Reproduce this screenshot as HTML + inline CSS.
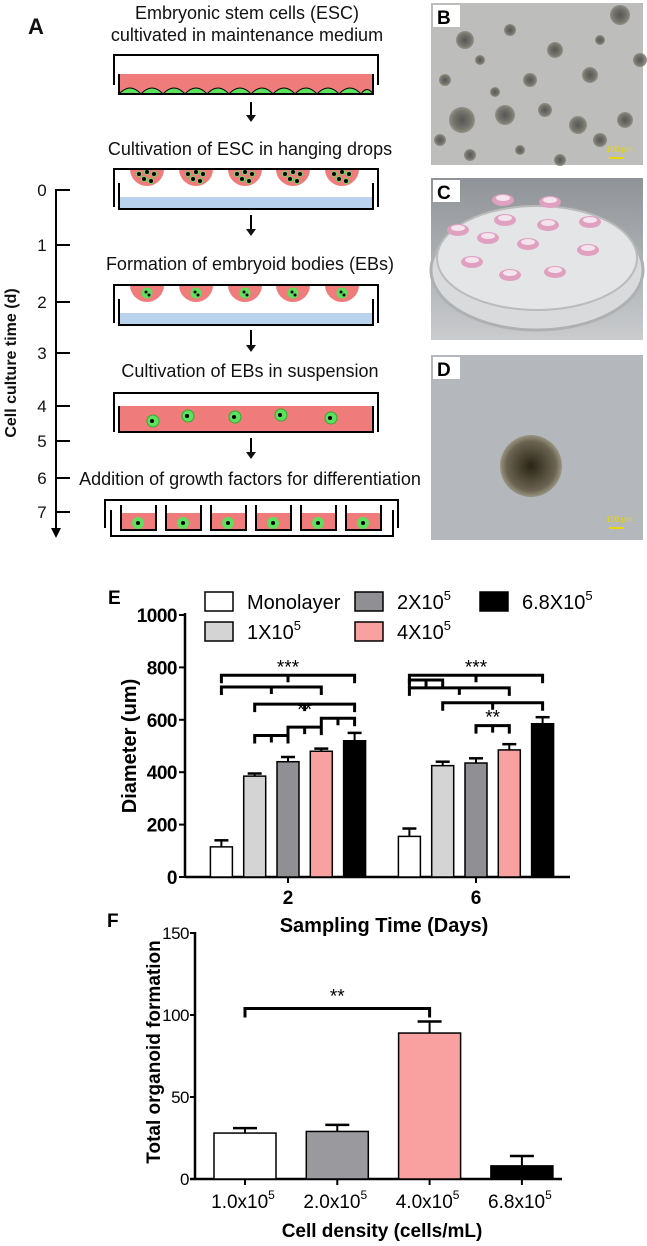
<!DOCTYPE html>
<html><head><meta charset="utf-8"><style>
body{margin:0;background:#fff;width:647px;height:1246px;overflow:hidden}
svg{position:absolute;left:0;top:0;font-family:"Liberation Sans",sans-serif}
</style></head><body>
<svg id="fig" width="647" height="1246">
<defs>
<radialGradient id="cell" cx="50%" cy="50%" r="50%"><stop offset="0" stop-color="#444"/><stop offset="0.7" stop-color="#6a6a60"/><stop offset="1" stop-color="#8a8a80"/></radialGradient>
<radialGradient id="ebd" cx="50%" cy="50%" r="50%"><stop offset="0" stop-color="#2a2418"/><stop offset="0.8" stop-color="#6b6450"/><stop offset="1" stop-color="#9a9684"/></radialGradient>
<linearGradient id="cbg" x1="0" y1="0" x2="0" y2="1"><stop offset="0" stop-color="#8f9397"/><stop offset="1" stop-color="#c9cbcd"/></linearGradient>
</defs>
<!-- Panel A -->
<g font-size="18" fill="#111">
<text x="28" y="34" font-size="22" font-weight="bold">A</text>
<text x="247" y="19" text-anchor="middle">Embryonic stem cells (ESC)</text>
<text x="247" y="41" text-anchor="middle">cultivated in maintenance medium</text>
<g>
<path d="M114 85V55H378V85" fill="none" stroke="#000" stroke-width="2"/>
<rect x="119" y="74" width="254" height="20" fill="#f07b7b"/>
<path d="M119 94 Q130 82 141 94 Q152 82 163 94 Q174 82 185 94 Q196 82 207 94 Q218 82 229 94 Q240 82 251 94 Q262 82 273 94 Q284 82 295 94 Q306 82 317 94 Q328 82 339 94 Q350 82 361 94 Q367 85 373 94Z" fill="#5de05d" stroke="#000"/>
<path d="M119 74V94H373V74" fill="none" stroke="#000" stroke-width="2"/>
</g>
<g id="arrows"></g>
<text x="250" y="155" text-anchor="middle">Cultivation of ESC in hanging drops</text>
<g id="dish2"></g>
<text x="250" y="270" text-anchor="middle">Formation of embryoid bodies (EBs)</text>
<g id="dish3"></g>
<text x="250" y="377" text-anchor="middle">Cultivation of EBs in suspension</text>
<g id="dish4">
<path d="M114 432V393H378V432" fill="none" stroke="#000" stroke-width="2"/>
<rect x="119" y="406" width="254" height="26" fill="#f07b7b"/>
<path d="M119 406V432H373V406" fill="none" stroke="#000" stroke-width="2"/>
</g>
<text x="250" y="485" text-anchor="middle">Addition of growth factors for differentiation</text>
<g id="dish5">
<path d="M105 528V500H398V528" fill="none" stroke="#000" stroke-width="2"/>
<path d="M111 510V536H393V510" fill="none" stroke="#000" stroke-width="2"/>
</g>
<g>
<line x1="56" y1="189" x2="56" y2="530" stroke="#000" stroke-width="2"/>
<path d="M51 528L56 538L61 528Z" fill="#000"/>
<g id="tticks"></g>
<text transform="translate(16,363) rotate(-90)" text-anchor="middle" font-weight="bold" font-size="16">Cell culture time (d)</text>
</g>
</g>
<!-- Photos -->
<g>
<rect x="431" y="3" width="212" height="162" fill="#bdbdbb"/>
<g id="bcells"></g>
<rect x="433" y="5" width="27" height="22" fill="#fff"/>
<text x="437" y="24" font-size="19" font-weight="bold">B</text>
<text x="606" y="152" font-size="8" fill="#e8d800">100 µm</text>
<rect x="609" y="157" width="15" height="2" fill="#e8d800"/>
</g>
<g>
<rect x="431" y="178" width="212" height="162" fill="url(#cbg)"/>
<ellipse cx="537" cy="270" rx="106" ry="60" fill="#d8dadc" stroke="#aeb0b2" stroke-width="3"/>
<ellipse cx="537" cy="258" rx="100" ry="52" fill="#e4e5e6" stroke="#bbb" stroke-width="2"/>
<g id="drops"></g>
<rect x="433" y="180" width="27" height="22" fill="#fff"/>
<text x="437" y="199" font-size="19" font-weight="bold">C</text>
</g>
<g>
<rect x="431" y="355" width="212" height="185" fill="#b4b7bc"/>
<circle cx="531" cy="466" r="31" fill="url(#ebd)"/>
<rect x="433" y="357" width="27" height="22" fill="#fff"/>
<text x="437" y="376" font-size="19" font-weight="bold">D</text>
<text x="606" y="522" font-size="8" fill="#e8d800">100 µm</text>
<rect x="609" y="527" width="15" height="2" fill="#e8d800"/>
</g>
<!-- Panel E -->
<g id="chartE"></g>
<g id="chartF"></g>
</svg>
<script>
// ---- Chart E data ----
const eDays = ["2", "6"];
const eSeries = ["Monolayer", "1X10", "2X10", "4X10", "6.8X10"];
const eDay2 = [115, 385, 440, 480, 520];
const eDay2Err = [25, 10, 18, 10, 30];
const eDay6 = [155, 425, 435, 485, 585];
const eDay6Err = [30, 15, 18, 22, 25];
const eTicks = [0, 200, 400, 600, 800, 1000];
// brackets: [group, barA, barB, height, label]
const eBrackets = [[0,0,4,770,"***"],[0,0,3,725,""],[0,1,4,660,""],[0,1,2,540,""],[0,2,3,572,""],[0,3,4,606,""],
  [1,0,4,770,"***"],[1,0,1,752,""],[1,0,3,722,""],[1,1,4,665,""],[1,2,3,578,"**"]];
const eExtraLabels = [[0,2.5,615,"**"]];
// ---- Chart F data ----
const fCats = ["1.0x10", "2.0x10", "4.0x10", "6.8x10"];
const fVals = [28, 29, 89, 8];
const fErr = [3, 4, 7, 6];
const fTicks = [0, 50, 100, 150];

const NS = "http://www.w3.org/2000/svg";
function mk(tag, attrs, parent, txt){const e=document.createElementNS(NS,tag);for(const k in attrs)e.setAttribute(k,attrs[k]);if(txt!==undefined)e.textContent=txt;parent.appendChild(e);return e;}

// Schematic extras
const arrows=document.getElementById('arrows');
[[102,122],[215,236],[330,352],[438,459]].forEach(a=>{mk('line',{x1:251,y1:a[0],x2:251,y2:a[1]-5,stroke:'#000','stroke-width':2},arrows);mk('path',{d:`M246 ${a[1]-7}L251 ${a[1]}L256 ${a[1]-7}Z`},arrows);});
const dcx=[147,196,245,293,342];
function hanging(g,top,eb){
  mk('rect',{x:119,y:top+28,width:254,height:11,fill:'#b9d3ee'},g);
  dcx.forEach(cx=>{mk('path',{d:`M${cx-17} ${top} A17 17 0 0 0 ${cx+17} ${top}Z`,fill:'#f07b7b'},g);
    if(eb){mk('circle',{cx:cx,cy:top+8,r:5.5,fill:'#5de05d'},g);mk('circle',{cx:cx-1,cy:top+7,r:1.5,fill:'#000'},g);mk('circle',{cx:cx+2,cy:top+10,r:1.5,fill:'#000'},g);}
    else{[[-8,5],[0,3],[7,5],[-3,10],[4,12]].forEach(p=>{mk('circle',{cx:cx+p[0],cy:top+p[1],r:2.5,fill:'#000',stroke:'#5de05d','stroke-width':1},g);});}});
  mk('path',{d:`M114 ${top+38}V${top}H378V${top+38}`,fill:'none',stroke:'#000','stroke-width':2},g);
  mk('path',{d:`M119 ${top+14}V${top+40}H373V${top+14}`,fill:'none',stroke:'#000','stroke-width':2},g);
}
hanging(document.getElementById('dish2'),169,false);
hanging(document.getElementById('dish3'),285,true);
const d4=document.getElementById('dish4');
[[153,421],[188,416],[235,417],[281,415],[331,418]].forEach(p=>{mk('circle',{cx:p[0],cy:p[1],r:6,fill:'#5de05d',stroke:'#3a3'},d4);mk('circle',{cx:p[0]-1,cy:p[1],r:2,fill:'#000'},d4);});
const d5=document.getElementById('dish5');
for(let i=0;i<6;i++){const x=121+i*45;mk('rect',{x:x,y:513,width:35,height:17,fill:'#f07b7b'},d5);mk('path',{d:`M${x} 505V530H${x+35}V505`,fill:'none',stroke:'#000','stroke-width':2},d5);mk('circle',{cx:x+17,cy:523,r:6,fill:'#5de05d'},d5);mk('circle',{cx:x+17,cy:523,r:2,fill:'#000'},d5);}
const tt=document.getElementById('tticks');
[[0,190],[1,245],[2,302],[3,353],[4,406],[5,441],[6,478],[7,512]].forEach(t=>{mk('line',{x1:56,y1:t[1],x2:70,y2:t[1],stroke:'#000','stroke-width':2},tt);mk('text',{x:42,y:t[1]+6,'text-anchor':'middle','font-size':17},tt,t[0]);});
const bc=document.getElementById('bcells');
[[465,40,9],[510,30,6],[555,50,8],[620,15,10],[445,80,6],[480,60,5],[590,75,8],[530,80,7],[462,120,13],[505,115,10],[545,110,7],[578,125,9],[625,120,8],[600,140,7],[470,155,6],[520,150,5],[560,160,6],[640,60,7],[600,40,5],[495,92,5],[440,140,6]].forEach(c=>mk('circle',{cx:c[0],cy:c[1],r:c[2],fill:'url(#cell)',opacity:0.85},bc));
const dr=document.getElementById('drops');
[[503,200],[550,202],[505,220],[548,225],[590,222],[458,230],[488,238],[528,244],[588,250],[472,262],[510,275],[555,272]].forEach(p=>{mk('ellipse',{cx:p[0],cy:p[1],rx:11,ry:6,fill:'#e0a0c0'},dr);mk('ellipse',{cx:p[0],cy:p[1]-2,rx:7,ry:3,fill:'#f4e4ee'},dr);});

// ---- Chart E ----
const E=document.getElementById('chartE');
const eX0=185,eX1=570,eY0=877,eY1=615;
const ey=v=>eY0-(v-0)/(1000-0)*(eY0-eY1);
const groupC=[288,476], barStep=33.3, bw=22;
const ebx=(g,i)=>groupC[g]+(i-2)*barStep;
const fills=['#fff','#d4d4d4','#8f8f94','#f9a0a0','#000'];
mk('text',{x:108,y:604,'font-size':19,'font-weight':'bold'},E,'E');
mk('line',{x1:eX0,y1:eY1-2,x2:eX0,y2:eY0,stroke:'#000','stroke-width':2.5},E);
mk('line',{x1:eX0,y1:eY0,x2:eX1,y2:eY0,stroke:'#000','stroke-width':2.5},E);
eTicks.forEach(t=>{const l=mk('line',{x1:eX0-6,y1:ey(t),x2:eX0,y2:ey(t),stroke:'#000','stroke-width':2},E);
 
 
 const tx=mk('text',{x:eX0-8,y:ey(t)+7,'text-anchor':'end','font-size':19,'font-weight':'bold','letter-spacing':-0.5},E,t);
 
 });
eDays.forEach((d,g)=>{mk('line',{x1:groupC[g],y1:eY0,x2:groupC[g],y2:eY0+6,stroke:'#000','stroke-width':2},E);
 const tx=mk('text',{x:groupC[g],y:eY0+27,'text-anchor':'middle','font-size':19,'font-weight':'bold'},E,d);
 
 });
[eDay2,eDay6].forEach((vals,g)=>{const errs=g?eDay6Err:eDay2Err;vals.forEach((v,i)=>{const x=ebx(g,i);
 mk('line',{x1:x,y1:ey(v),x2:x,y2:ey(v+errs[i]),stroke:'#000','stroke-width':2},E);
 mk('line',{x1:x-7,y1:ey(v+errs[i]),x2:x+7,y2:ey(v+errs[i]),stroke:'#000','stroke-width':2.5},E);
 const r=mk('rect',{x:x-bw/2,y:ey(v),width:bw,height:eY0-ey(v),fill:fills[i],stroke:'#000','stroke-width':1.5},E);
 
 });});
eBrackets.forEach(b=>{const x1=ebx(b[0],b[1]),x2=ebx(b[0],b[2]),y=ey(b[3]);
 const p=mk('path',{d:`M${x1} ${y+8}V${y}H${x2}V${y+8}M${(x1+x2)/2} ${y}V${y+7}`,fill:'none',stroke:'#000','stroke-width':3},E);
 
 
 if(b[4])mk('text',{x:(x1+x2)/2,y:y-2,'text-anchor':'middle','font-size':19},E,b[4]);});
eExtraLabels.forEach(l=>{mk('text',{x:ebx(l[0],l[1]),y:ey(l[2]),'text-anchor':'middle','font-size':19},E,l[3]);});
mk('text',{transform:'translate(136,746) rotate(-90)','text-anchor':'middle','font-size':20,'font-weight':'bold'},E,'Diameter (um)');
mk('text',{x:384,y:932,'text-anchor':'middle','font-size':20,'font-weight':'bold'},E,'Sampling Time (Days)');
// legend
const legPos=[[205,592],[205,622],[355,592],[355,622],[480,592]];
eSeries.forEach((s,i)=>{const lp=legPos[i];
 const r=mk('rect',{x:lp[0],y:lp[1],width:28,height:19,fill:fills[i],stroke:'#000','stroke-width':1.5},E);
 
 
 const t=mk('text',{x:lp[0]+42,y:lp[1]+17,'font-size':20},E,s);
 
 
 if(i>0){mk('tspan',{'font-size':13,dy:-9},t,'5');}});

// ---- Chart F ----
const F=document.getElementById('chartF');
const fX0=195,fX1=562,fY0=1179,fY1=933;
const fy=v=>fY0-v/150*(fY0-fY1);
const fcx=i=>245+i*92.3, fbw=62;
const ffills=['#fff','#9a9a9e','#f9a0a0','#000'];
mk('text',{x:107,y:927,'font-size':19,'font-weight':'bold'},F,'F');
mk('line',{x1:fX0,y1:fY1-1,x2:fX0,y2:fY0,stroke:'#000','stroke-width':2.5},F);
mk('line',{x1:fX0-5,y1:fY0,x2:fX1,y2:fY0,stroke:'#000','stroke-width':2.5},F);
fTicks.forEach(t=>{mk('line',{x1:fX0-5,y1:fy(t),x2:fX0,y2:fy(t),stroke:'#000','stroke-width':2},F);
 const tx=mk('text',{x:fX0-6,y:fy(t)+6,'text-anchor':'end','font-size':17,'letter-spacing':-0.5},F,t);
 
 });
fCats.forEach((c,i)=>{const x=fcx(i),v=fVals[i];
 mk('line',{x1:x,y1:fY0,x2:x,y2:fY0+6,stroke:'#000','stroke-width':2},F);
 mk('line',{x1:x,y1:fy(v),x2:x,y2:fy(v+fErr[i]),stroke:'#000','stroke-width':2},F);
 mk('line',{x1:x-12,y1:fy(v+fErr[i]),x2:x+12,y2:fy(v+fErr[i]),stroke:'#000','stroke-width':2.5},F);
 const r=mk('rect',{x:x-fbw/2,y:fy(v),width:fbw,height:fY0-fy(v),fill:ffills[i],stroke:'#000','stroke-width':1.5},F);
 
 
 const t=mk('text',{x:x-2,y:fY0+29,'text-anchor':'middle','font-size':19},F,c);
 
 
 mk('tspan',{'font-size':12,dy:-9},t,'5');});
{const x1=fcx(0),x2=fcx(2),y=fy(104);
 mk('path',{d:`M${x1} ${y+9}V${y}H${x2}V${y+9}`,fill:'none',stroke:'#000','stroke-width':3},F);
 mk('text',{x:(x1+x2)/2,y:y-6,'text-anchor':'middle','font-size':19},F,'**');}
mk('text',{transform:'translate(160,1052) rotate(-90)','text-anchor':'middle','font-size':19,'font-weight':'bold'},F,'Total organoid formation');
mk('text',{x:382,y:1237,'text-anchor':'middle','font-size':19,'font-weight':'bold'},F,'Cell density (cells/mL)');
</script>
</body></html>
